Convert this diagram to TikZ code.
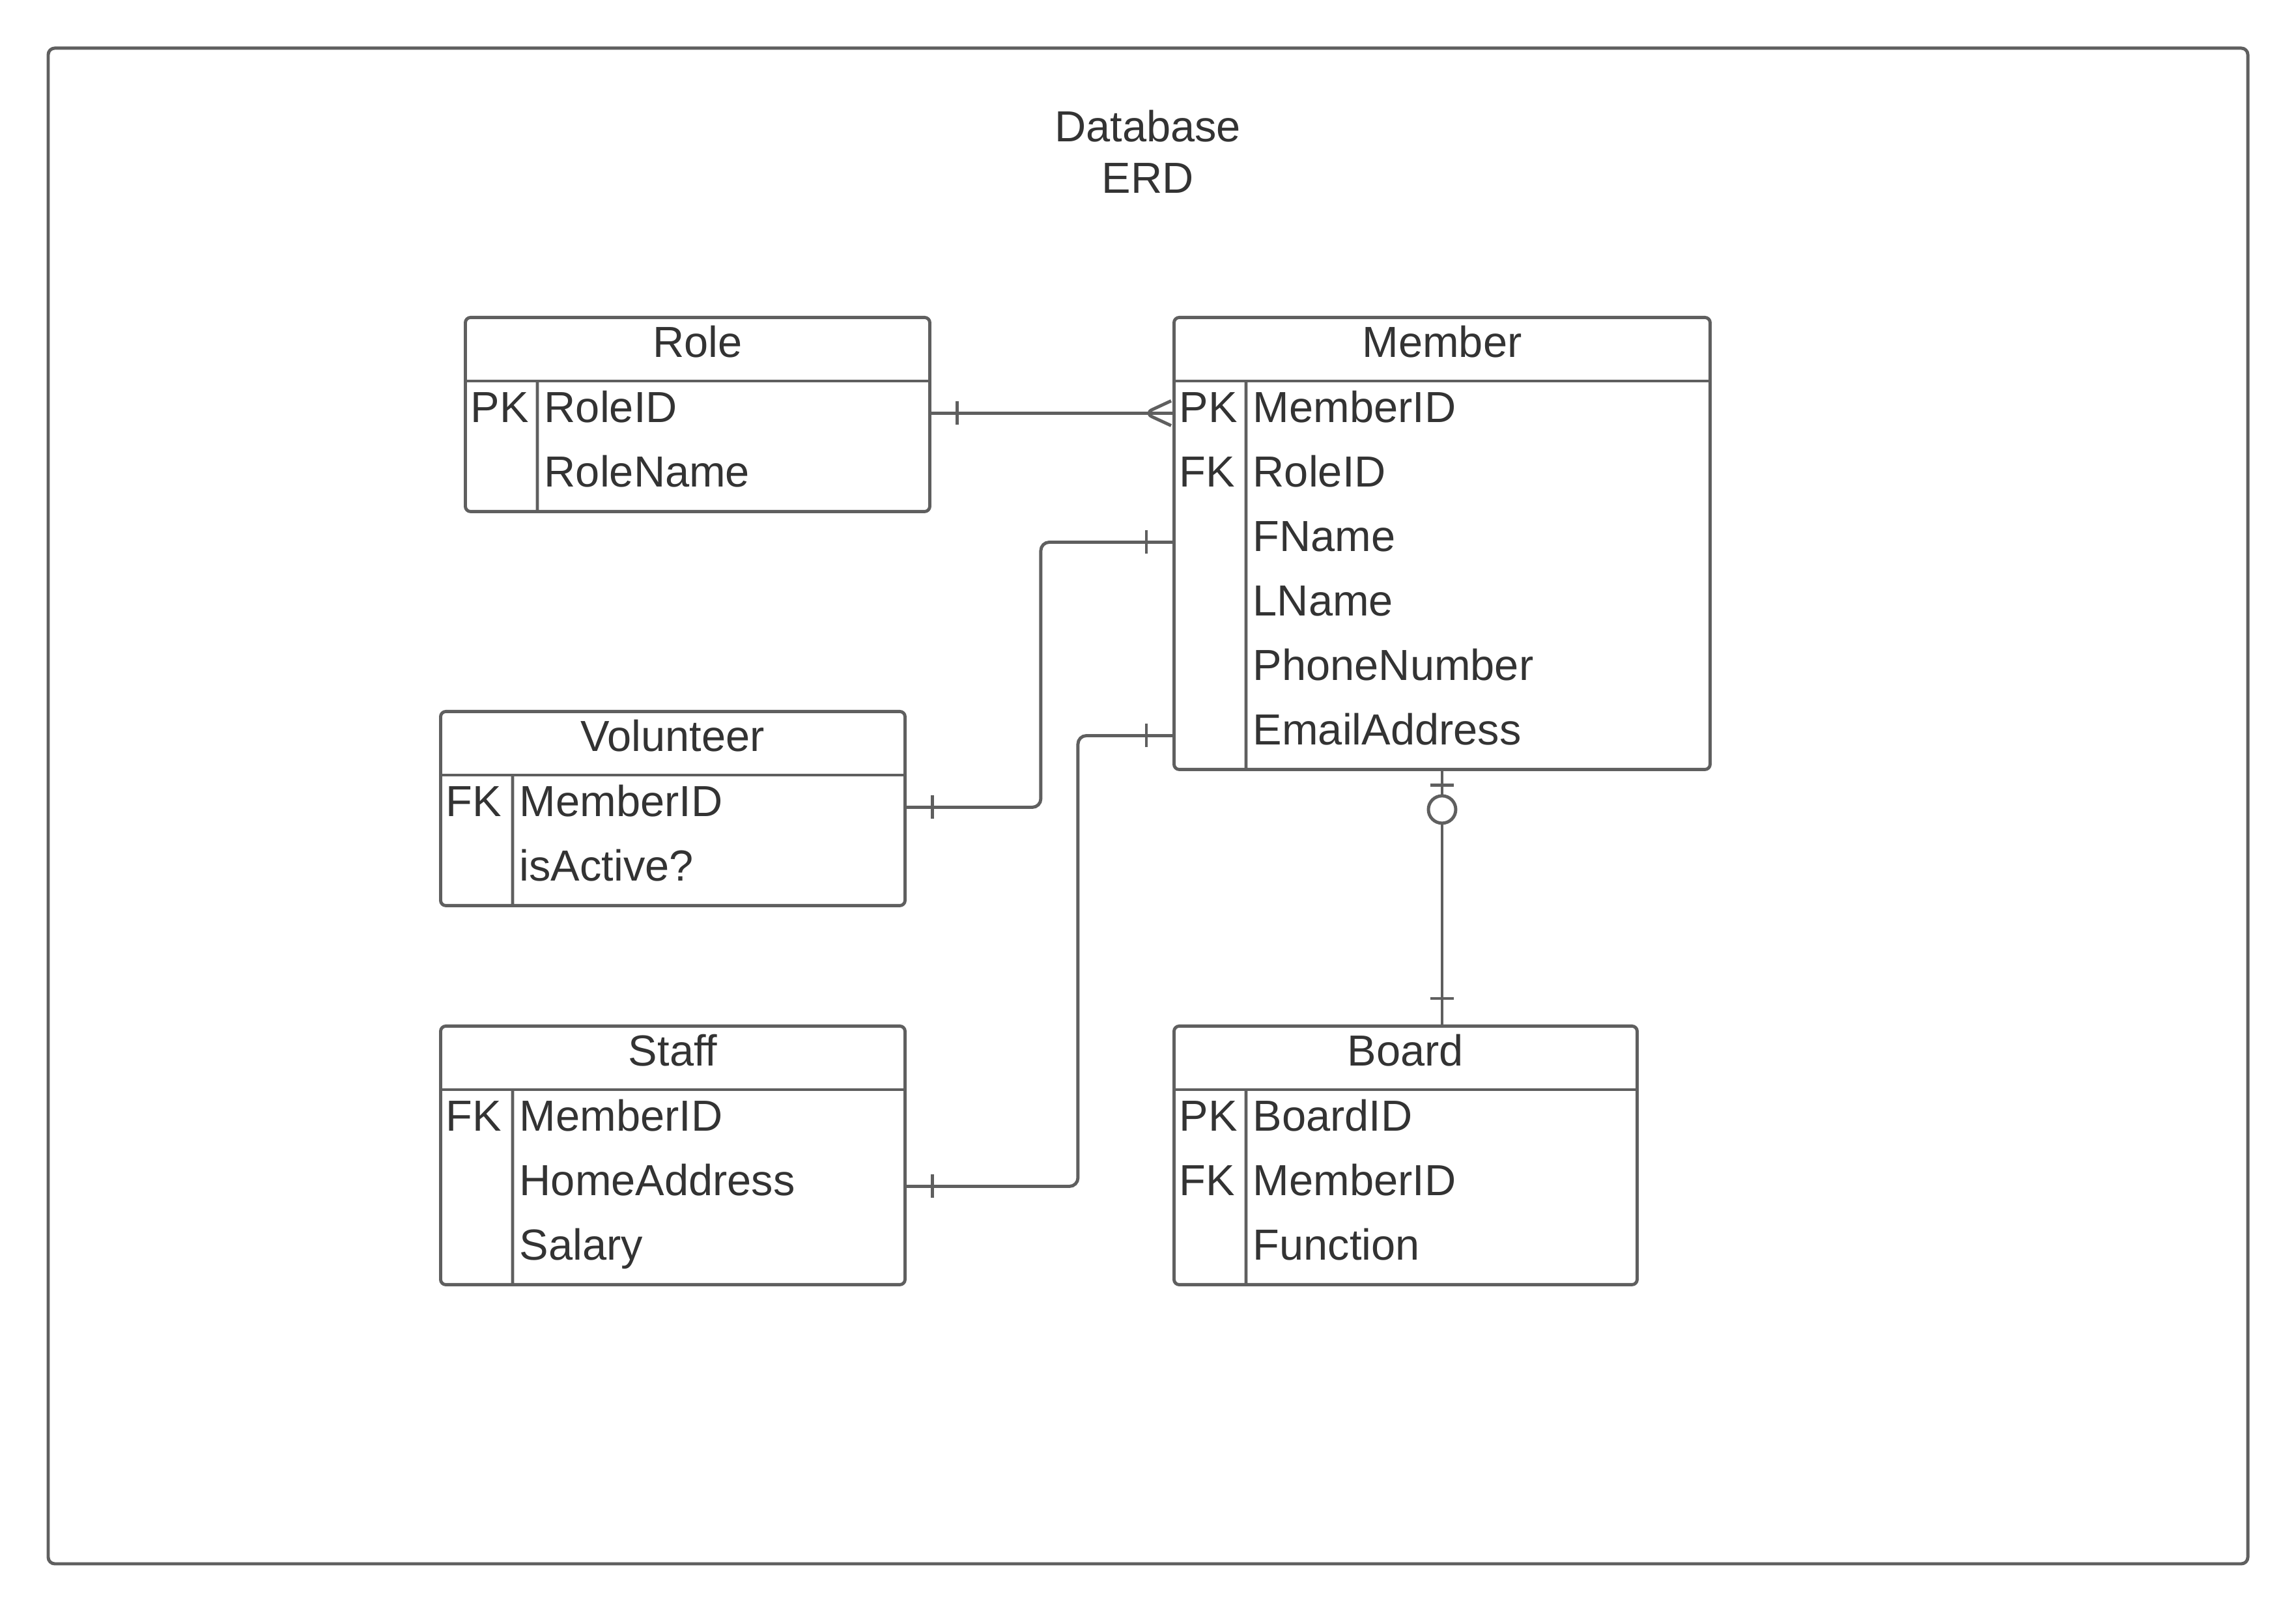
\documentclass[tikz,border=0pt]{standalone}
\usepackage{fontspec}
\setmainfont{Liberation Sans}
\usetikzlibrary{decorations.markings}
\definecolor{linegray}{HTML}{5F5F5F}
\definecolor{textgray}{HTML}{333333}
\tikzset{
  entity/.style={draw=linegray, line width=1.4pt, rounded corners=0.08cm, anchor=north west, inner sep=0pt},
  divline/.style={draw=linegray, line width=1.4pt},
  txt/.style={text=textgray, font=\fontsize{19}{22.5}\selectfont, text height=0.5cm, text depth=0.22cm, inner ysep=0pt},
  field/.style={txt, anchor=west, inner xsep=0.1cm},
  link/.style={draw=linegray, line width=1.4pt, rounded corners=0.13cm},
  one start/.style={postaction={decorate, decoration={markings,
    mark=at position 0.4cm with {\draw[linegray, line width=1.4pt] (0,-0.18) -- (0,0.18);}}}},
  one end/.style={postaction={decorate, decoration={markings,
    mark=at position -0.4cm with {\draw[linegray, line width=1.4pt] (0,-0.18) -- (0,0.18);}}}},
  many end/.style={postaction={decorate, decoration={markings,
    mark=at position -0.43cm with {\draw[linegray, line width=1.4pt] (0.41,0.19) -- (0,0) -- (0.41,-0.19);}}}},
  zero one start/.style={postaction={decorate, decoration={markings,
    mark=at position 0.22cm with {\draw[linegray, line width=1.4pt] (0,-0.18) -- (0,0.18);},
    mark=at position 0.59cm with {\draw[linegray, line width=1.4pt, fill=white] (0,0) circle (0.21cm);}}}},
}
\begin{document}
\begin{tikzpicture}
\useasboundingbox (0,0) rectangle (35.25,24.75);
\draw[linegray, line width=1.4pt, rounded corners=0.1cm] (0.74,0.74) rectangle (34.51,24.01);
\node[text=textgray, font=\fontsize{19}{22.5}\selectfont, align=center] (title) at (17.62,22.42) {Database\\ERD};

% entity boxes
\node[entity, minimum width=7.13cm, minimum height=2.98cm] (role) at (7.12,19.90) {};
\node[entity, minimum width=8.23cm, minimum height=6.94cm] (member) at (18.00,19.90) {};
\node[entity, minimum width=7.13cm, minimum height=2.98cm] (vol) at (6.74,13.85) {};
\node[entity, minimum width=7.13cm, minimum height=3.97cm] (staff) at (6.74,9.02) {};
\node[entity, minimum width=7.11cm, minimum height=3.97cm] (board) at (18.00,9.02) {};

\foreach \e in {role,member,vol,staff,board} { % header line and key column
  \draw[divline] ([yshift=-1cm]\e.north west) -- ([yshift=-1cm]\e.north east);
  \draw[divline] ([shift={(1.13,-1)}]\e.north west) -- ([xshift=1.13cm]\e.south west);
}

% titles
\node[txt] (role-t) at ([yshift=-0.5cm]role.north) {Role};
\node[txt] (member-t) at ([yshift=-0.5cm]member.north) {Member};
\node[txt] (vol-t) at ([yshift=-0.5cm]vol.north) {Volunteer};
\node[txt] (staff-t) at ([yshift=-0.5cm]staff.north) {Staff};
\node[txt] (board-t) at ([yshift=-0.5cm]board.north) {Board};

% fields
\foreach \f [count=\i] in {RoleID,RoleName}
  \node[field] (role-\i) at ([shift={(1.13,{-1-(\i-0.5)*0.99})}]role.north west) {\f};
\foreach \f [count=\i] in {MemberID,RoleID,FName,LName,PhoneNumber,EmailAddress}
  \node[field] (member-\i) at ([shift={(1.13,{-1-(\i-0.5)*0.99})}]member.north west) {\f};
\foreach \f [count=\i] in {MemberID,isActive?}
  \node[field] (vol-\i) at ([shift={(1.13,{-1-(\i-0.5)*0.99})}]vol.north west) {\f};
\foreach \f [count=\i] in {MemberID,HomeAddress,Salary}
  \node[field] (staff-\i) at ([shift={(1.13,{-1-(\i-0.5)*0.99})}]staff.north west) {\f};
\foreach \f [count=\i] in {BoardID,MemberID,Function}
  \node[field] (board-\i) at ([shift={(1.13,{-1-(\i-0.5)*0.99})}]board.north west) {\f};

% keys
\node[field] (role-k1) at ([yshift=-1.495cm]role.north west) {PK};
\node[field] (member-k1) at ([yshift=-1.495cm]member.north west) {PK};
\node[field] (member-k2) at ([yshift=-2.485cm]member.north west) {FK};
\node[field] (vol-k1) at ([yshift=-1.495cm]vol.north west) {FK};
\node[field] (staff-k1) at ([yshift=-1.495cm]staff.north west) {FK};
\node[field] (board-k1) at ([yshift=-1.495cm]board.north west) {PK};
\node[field] (board-k2) at ([yshift=-2.485cm]board.north west) {FK};

% relations
\draw[link, one start, many end] (role.east |- role-1) -- (member.west |- member-1);
\draw[link, one start, one end] (vol.east |- vol-1) -- ++(2.06,0) |- (member.west |- member-3);
\draw[link, one start, one end] (staff.east |- staff-2) -- ++(2.63,0) |- (member.west |- member-6);
\draw[link, zero one start, one end] (member.south) -- (member.south |- board.north);
\end{tikzpicture}
\end{document}
